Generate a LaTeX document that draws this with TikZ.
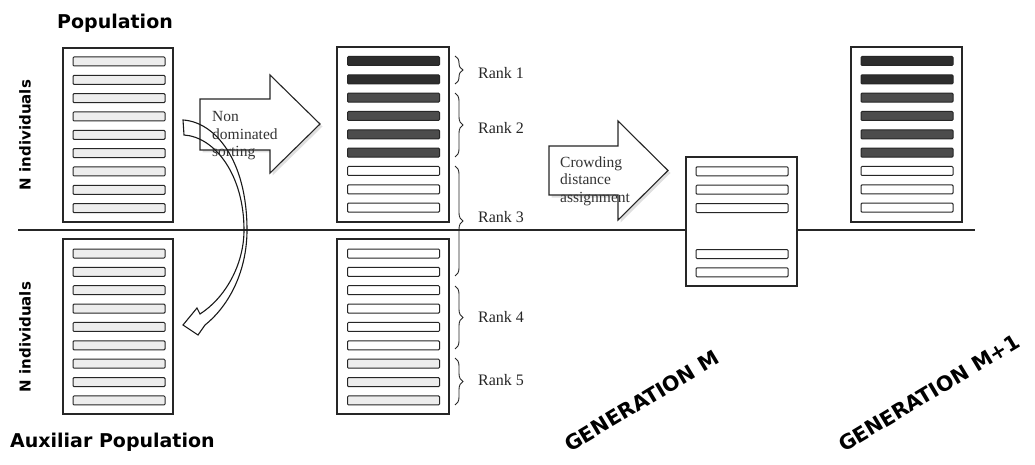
\documentclass[tikz,border=0pt]{standalone}
\usepackage{fontspec}
\setmainfont{Liberation Serif}
\newfontfamily\labfont{DejaVu Sans}
\usetikzlibrary{decorations.pathreplacing,shadows}
\begin{document}
\begin{tikzpicture}[x=1pt,y=-1pt,
  panel/.style={draw=black!85, line width=1.1pt, inner sep=0, fill=white},
  bar/.style={draw=black!85, line width=1pt, rounded corners=1pt, minimum width=92pt, minimum height=9pt, inner sep=0},
  lite/.style={bar, fill=black!7},
  blank/.style={bar, fill=white},
  darkbar/.style={bar, fill=black!82},
  midbar/.style={bar, fill=black!70},
  rankbrace/.style={draw=black!85, line width=0.9pt, decorate, decoration={brace, amplitude=8pt}},
  ranklabel/.style={anchor=west, inner sep=0, font=\fontsize{16}{17}\selectfont, text=black!85},
  blockarrow/.style={draw=black!85, line width=1.1pt, fill=white, line join=miter,
     drop shadow={opacity=0.25, shadow xshift=2.5pt, shadow yshift=-2.5pt}},
  arrowtext/.style={anchor=north west, inner sep=0, align=left, font=\fontsize{15.5}{17.5}\selectfont, text=black!80},
  headline/.style={inner sep=0, font=\labfont\bfseries\fontsize{19}{22}\selectfont},
  sidelabel/.style={inner sep=0, rotate=90, font=\labfont\bfseries\fontsize{15}{18}\selectfont},
  genlabel/.style={inner sep=0, rotate=31, font=\labfont\bfseries\fontsize{20.5}{22}\selectfont}
]
\useasboundingbox (0,0) rectangle (1035,465);

% separator line
\coordinate (lineL) at (18,230);
\coordinate (lineR) at (975,230);
\draw[line width=1.3pt, black!85] (lineL) -- (lineR);

% titles
\node[headline, anchor=base west] (poptitle) at (57,29) {Population};
\node[headline, anchor=base west] (auxtitle) at (10,447) {Auxiliar Population};
\node[sidelabel] (nind1) at (25,135) {N individuals};
\node[sidelabel] (nind2) at (25,337) {N individuals};

% population box
\node[panel, minimum width=110pt, minimum height=174pt] (pop) at (118,135) {};
\foreach \i in {1,...,9} \node[lite] (p\i) at (119,{61.5+18.33*(\i-1)}) {};
% auxiliar box
\node[panel, minimum width=110pt, minimum height=175pt] (aux) at (118,326.5) {};
\foreach \i in {1,...,9} \node[lite] (a\i) at (119,{253.5+18.37*(\i-1)}) {};

% sorted boxes
\node[panel, minimum width=112pt, minimum height=175pt] (sortA) at (393,134.5) {};
\foreach \i/\s in {1/darkbar,2/darkbar,3/midbar,4/midbar,5/midbar,6/midbar,7/blank,8/blank,9/blank}
  \node[\s] (s\i) at (393.5,{61+18.33*(\i-1)}) {};
\node[panel, minimum width=112pt, minimum height=175pt] (sortB) at (393,326.5) {};
\foreach \i/\s in {1/blank,2/blank,3/blank,4/blank,5/blank,6/blank,7/lite,8/lite,9/lite}
  \node[\s] (t\i) at (393.5,{253.5+18.37*(\i-1)}) {};

% ranks
\coordinate (r1a) at (455,56);  \coordinate (r1b) at (455,84);
\coordinate (r2a) at (455,93);  \coordinate (r2b) at (455,157);
\coordinate (r3a) at (455,166); \coordinate (r3b) at (455,276);
\coordinate (r4a) at (455,286); \coordinate (r4b) at (455,349);
\coordinate (r5a) at (455,358); \coordinate (r5b) at (455,405);
\draw[rankbrace] (r1a) -- (r1b);
\draw[rankbrace] (r2a) -- (r2b);
\draw[rankbrace] (r3a) -- (r3b);
\draw[rankbrace] (r4a) -- (r4b);
\draw[rankbrace] (r5a) -- (r5b);
\node[ranklabel] (rank1) at (478,73) {Rank 1};
\node[ranklabel] (rank2) at (478,128) {Rank 2};
\node[ranklabel] (rank3) at (478,217) {Rank 3};
\node[ranklabel] (rank4) at (478,317) {Rank 4};
\node[ranklabel] (rank5) at (478,380) {Rank 5};

% generation M box
\node[panel, minimum width=111pt, minimum height=129pt] (genM) at (741.5,221.5) {};
\node[blank] (m1) at (742,171.3) {};
\node[blank] (m2) at (742,189.7) {};
\node[blank] (m3) at (742,208) {};
\node[blank] (m4) at (742,254) {};
\node[blank] (m5) at (742,272.3) {};

% generation M+1 box
\node[panel, minimum width=111pt, minimum height=175pt] (genN) at (906.5,134.5) {};
\foreach \i/\s in {1/darkbar,2/darkbar,3/midbar,4/midbar,5/midbar,6/midbar,7/blank,8/blank,9/blank}
  \node[\s] (n\i) at (907,{61+18.33*(\i-1)}) {};

% block arrows
\path[blockarrow] (200,99) -- (270,99) -- (270,75) -- (320,124) -- (270,173) -- (270,150) -- (200,150) -- cycle;
\node[arrowtext] (ndtext) at (212,111.5) {Non\\dominated\\sorting};
\path[blockarrow] (549,146) -- (618,146) -- (618,121) -- (668,170.5) -- (618,220) -- (618,195) -- (549,195) -- cycle;
\node[arrowtext] (cdtext) at (560,156.4) {Crowding\\distance\\assignment};

% curved copy arrow
\draw[line width=1.1pt, black!90, line join=miter]
  (183,120) .. controls (215,122) and (247,160) .. (247,230)
  .. controls (247,270) and (230,305) .. (205,325)
  -- (198,335) -- (183,325) -- (197,308) -- (200,314)
  .. controls (225,298) and (244,265) .. (244,230)
  .. controls (244,175) and (215,137) .. (184,135) -- cycle;

% generation labels
\node[genlabel] (genMlabel) at (642,401) {GENERATION M};
\node[genlabel] (genNlabel) at (929,393) {GENERATION M+1};
\end{tikzpicture}
\end{document}
